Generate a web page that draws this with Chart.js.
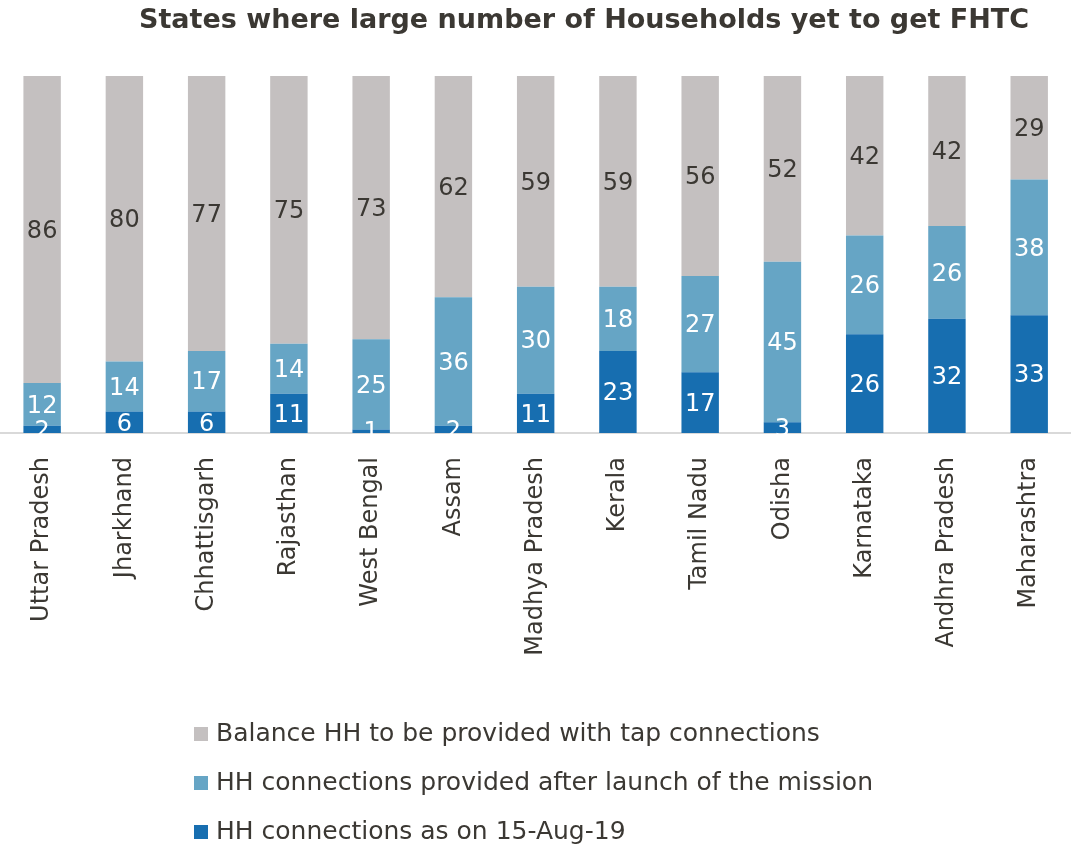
<!DOCTYPE html>
<html>
<head>
<meta charset="utf-8">
<script src="https://cdn.jsdelivr.net/npm/chart.js@4.4.1/dist/chart.umd.min.js"></script>
<style>
  html, body { margin: 0; padding: 0; background: #ffffff; overflow: hidden; }
  #wrap { width: 1074px; height: 846px; position: relative; }
</style>
</head>
<body>
<div id="wrap"><canvas id="chart"></canvas></div>
<script>
const TITLE = "States where large number of Households yet to get FHTC";

const states = [
  "Uttar Pradesh", "Jharkhand", "Chhattisgarh", "Rajasthan", "West Bengal",
  "Assam", "Madhya Pradesh", "Kerala", "Tamil Nadu", "Odisha",
  "Karnataka", "Andhra Pradesh", "Maharashtra",
];

// values shown on the bars (percent of households)
const asOn15Aug19 = [2, 6, 6, 11, 1, 2, 11, 23, 17, 3, 26, 32, 33];
const afterLaunch = [12, 14, 17, 14, 25, 36, 30, 18, 27, 45, 26, 26, 38];
const balance = [86, 80, 77, 75, 73, 62, 59, 59, 56, 52, 42, 42, 29];

const seriesNames = [
  "HH connections as on 15-Aug-19",
  "HH connections provided after launch of the mission",
  "Balance HH to be provided with tap connections",
];

const darkBlue = "#176eb0";
const lightBlue = "#66a5c5";
const grey = "#c4c0c0";
const textColor = "#3b3833";
const FONT = "'DejaVu Sans', sans-serif";

const raw = [asOn15Aug19, afterLaunch, balance];
const totals = states.map((_, i) => raw.reduce((s, arr) => s + arr[i], 0));

// Excel-style 100% stacked bars
function toPct(arr) {
  return arr.map((v, i) => (v / totals[i]) * 100);
}

const barLabels = {
  id: "barLabels",
  afterDatasetsDraw(chart) {
    const ctx = chart.ctx;
    ctx.save();
    ctx.font = `24px ${FONT}`;
    ctx.textAlign = "center";
    ctx.textBaseline = "middle";
    chart.data.datasets.forEach((ds, di) => {
      const meta = chart.getDatasetMeta(di);
      ctx.fillStyle = ds.labelColor;
      meta.data.forEach((bar, i) => {
        const y = (bar.y + bar.base) / 2;
        ctx.fillText(String(ds.rawValues[i]), bar.x, y + 2);
      });
    });
    ctx.restore();
  },
};

const titleAndLegend = {
  id: "titleAndLegend",
  afterDraw(chart) {
    const ctx = chart.ctx;
    ctx.save();
    ctx.fillStyle = textColor;
    ctx.font = `bold 27px ${FONT}`;
    ctx.textAlign = "center";
    ctx.textBaseline = "alphabetic";
    ctx.fillText(TITLE, 584, 28);

    ctx.font = `25px ${FONT}`;
    ctx.textAlign = "left";
    ctx.textBaseline = "middle";
    const items = chart.data.datasets.slice().reverse();
    items.forEach((ds, k) => {
      const cy = 734 + k * 49;
      ctx.fillStyle = ds.backgroundColor;
      ctx.fillRect(194, cy - 7, 14, 14);
      ctx.fillStyle = textColor;
      ctx.fillText(ds.label, 216, cy);
    });
    ctx.restore();
  },
};

function makeDataset(i, color, labelColor) {
  return {
    label: seriesNames[i],
    data: toPct(raw[i]),
    rawValues: raw[i],
    backgroundColor: color,
    labelColor: labelColor,
    borderWidth: 0,
    barPercentage: 0.455,
    categoryPercentage: 1.0,
  };
}

new Chart(document.getElementById("chart"), {
  type: "bar",
  data: {
    labels: states,
    datasets: [
      makeDataset(0, darkBlue, "#ffffff"),
      makeDataset(1, lightBlue, "#ffffff"),
      makeDataset(2, grey, textColor),
    ],
  },
  options: {
    responsive: true,
    maintainAspectRatio: false,
    animation: false,
    layout: { padding: { top: 76, left: 1, right: 0, bottom: 0 } },
    plugins: {
      legend: { display: false },
      title: { display: false },
      tooltip: { enabled: false },
    },
    scales: {
      x: {
        stacked: true,
        grid: { display: false },
        border: { display: true, color: "#d9d9d9", width: 2 },
        ticks: {
          color: textColor,
          font: { family: FONT, size: 24 },
          minRotation: 90,
          maxRotation: 90,
          padding: 16,
          autoSkip: false,
        },
        afterFit(scale) {
          scale.height = 846 - 433;
        },
      },
      y: {
        stacked: true,
        display: false,
        min: 0,
        max: 100,
      },
    },
  },
  plugins: [barLabels, titleAndLegend],
});
</script>
</body>
</html>
